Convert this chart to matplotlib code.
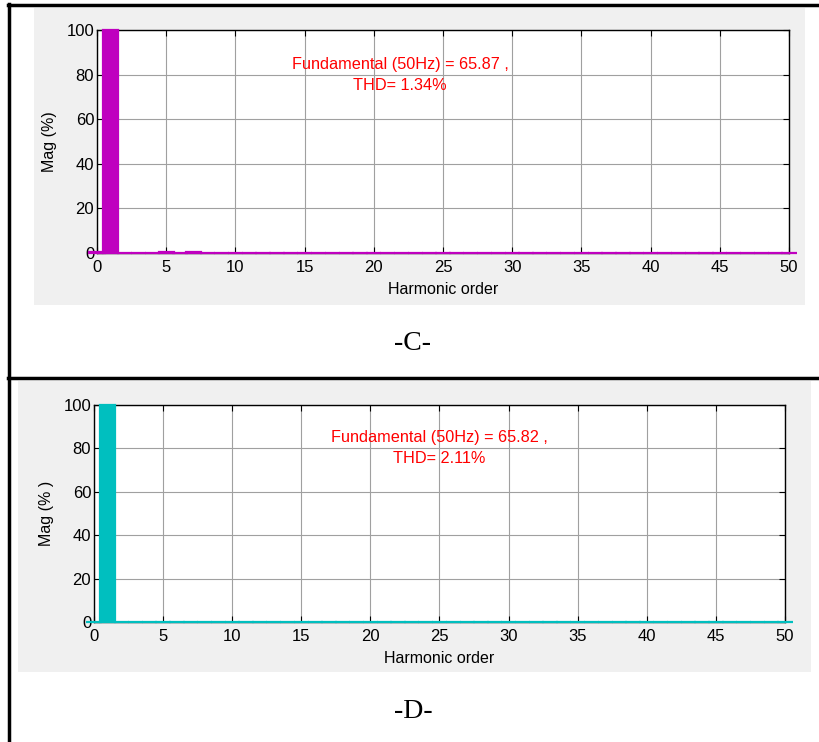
import matplotlib
matplotlib.use("Agg")
import matplotlib.pyplot as plt
from matplotlib.patches import Rectangle
from matplotlib.lines import Line2D

# ---------------- data ----------------
orders = list(range(0, 51))
mag_c = [0.3, 100, 0.1, 0.1, 0.1, 0.5, 0.1, 0.4] + [0.1] * 43
mag_d = [0.2, 100] + [0.1] * 49
text_c = "Fundamental (50Hz) = 65.87 ,\nTHD= 1.34%"
text_d = "Fundamental (50Hz) = 65.82 ,\nTHD= 2.11%"
xticks = [0, 5, 10, 15, 20, 25, 30, 35, 40, 45, 50]
yticks = [0, 20, 40, 60, 80, 100]
ylabel_c = "Mag (%)"
ylabel_d = "Mag (% )"
xlabel = "Harmonic order"
caption_c = "-C-"
caption_d = "-D-"

W, H = 820, 742
plt.rcParams['font.family'] = ['Liberation Sans', 'DejaVu Sans']
fig = plt.figure(figsize=(W / 100, H / 100), dpi=100)
fig.patch.set_facecolor('white')


def fx(x):
    return x / W


def fy(y):
    return 1 - y / H


# grey backgrounds
for (x0, y0, x1, y1) in [(34, 8, 805, 305), (18, 381, 811, 672)]:
    fig.patches.append(Rectangle((fx(x0), fy(y1)), fx(x1 - x0), (y1 - y0) / H,
                                 transform=fig.transFigure, facecolor='#F0F0F0',
                                 edgecolor='none', zorder=-5))

# table lines
fig.lines.append(Line2D([fx(9), fx(9)], [fy(4), fy(742)], transform=fig.transFigure,
                        color='black', linewidth=2.5))
fig.lines.append(Line2D([fx(8), fx(820)], [fy(5), fy(5)], transform=fig.transFigure,
                        color='black', linewidth=2.5))
fig.lines.append(Line2D([fx(8), fx(820)], [fy(378), fy(378)], transform=fig.transFigure,
                        color='black', linewidth=2.5))


def panel(rect, mags, color, txt, txt_xy, ylab):
    l, t, r, b = rect
    ax = fig.add_axes([fx(l), fy(b), (r - l) / W, (b - t) / H])
    ax.set_facecolor('white')
    ax.bar(orders, mags, width=1.1, color=color, edgecolor=color, linewidth=1.6,
           clip_on=False, zorder=5)
    ax.set_xlim(0, 50)
    ax.set_ylim(0, 100)
    ax.set_xticks(xticks)
    ax.set_yticks(yticks)
    ax.grid(True, color='#A0A0A0', linewidth=0.8, linestyle='-')
    ax.set_axisbelow(True)
    ax.tick_params(direction='in', top=True, right=True, length=4, width=0.8,
                   labelsize=12, pad=2, colors='black')
    ax.tick_params(axis='x', pad=5)
    for s in ax.spines.values():
        s.set_color('black')
        s.set_linewidth(1.0)
        s.set_zorder(4)
    ax.set_ylabel(ylab, fontsize=11.5, labelpad=7)
    ax.set_xlabel(xlabel, fontsize=11.5, labelpad=5)
    ax.text(txt_xy[0], txt_xy[1], txt, color='#FF0000', fontsize=11.7,
            ha='center', va='center', linespacing=1.5, zorder=6)
    return ax


panel((97, 30, 789, 253), mag_c, '#BF00BF', text_c, (21.9, 80.0), ylabel_c)
panel((94, 405, 785, 622), mag_d, '#00BFBF', text_d, (25.0, 80.0), ylabel_d)

fig.text(fx(413), fy(343), caption_c, family=['Liberation Serif', 'DejaVu Serif'],
         fontsize=20, ha='center', va='center')
fig.text(fx(413), fy(711), caption_d, family=['Liberation Serif', 'DejaVu Serif'],
         fontsize=20, ha='center', va='center')

fig.savefig('out.png', dpi=100, facecolor='white')
